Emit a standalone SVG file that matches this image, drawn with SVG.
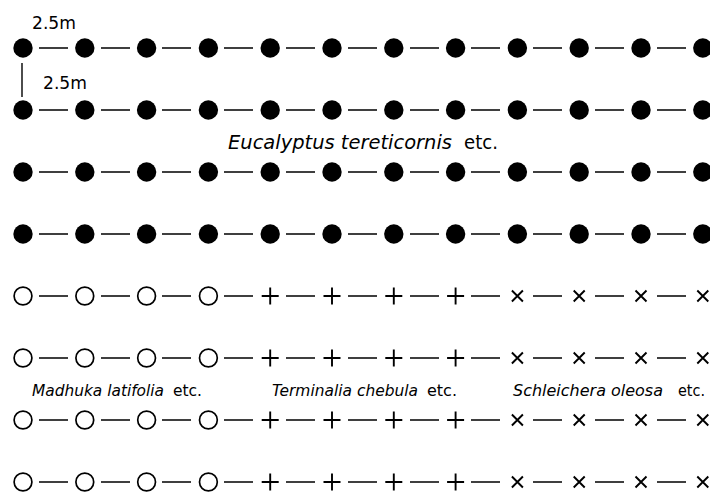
<svg xmlns="http://www.w3.org/2000/svg" xmlns:xlink="http://www.w3.org/1999/xlink" width="710" height="492" viewBox="0 0 710 492">
<style>
  .t { font-family: "DejaVu Sans", "Liberation Sans", sans-serif; fill: #000; }
  .it { font-style: italic; }
  .dash { stroke: #000; stroke-width: 1.4; fill: none; }
  .sym { stroke: #000; stroke-width: 1.9; fill: none; }
</style>
<defs>
  <circle id="fc" r="9.7" fill="#000"/>
  <circle id="oc" r="8.9" fill="none" stroke="#000" stroke-width="1.7"/>
  <path id="pl" class="sym" d="M-8.5,0H8.5M0,-8.5V8.5"/>
  <path id="cr" class="sym" d="M-5.5,-5.5L5.5,5.5M5.5,-5.5L-5.5,5.5"/>
  <path id="row" class="dash" d="M39,0h29M101,0h29M162,0h29M224,0h29M286,0h29M348,0h29M410,0h29M471,0h29M533,0h29M595,0h29M657,0h29"/>
</defs>
<g id="connectors">
  <use xlink:href="#row" y="48"/>
  <use xlink:href="#row" y="110"/>
  <use xlink:href="#row" y="172"/>
  <use xlink:href="#row" y="234"/>
  <use xlink:href="#row" y="296"/>
  <use xlink:href="#row" y="358"/>
  <use xlink:href="#row" y="420"/>
  <use xlink:href="#row" y="482"/>
  <line class="dash" x1="22" y1="63" x2="22" y2="97"/>
</g>
<g id="eucalyptus-rows">
  <g id="row1">
    <use xlink:href="#fc" x="23" y="48"/><use xlink:href="#fc" x="84.8" y="48"/><use xlink:href="#fc" x="146.6" y="48"/><use xlink:href="#fc" x="208.4" y="48"/><use xlink:href="#fc" x="270.2" y="48"/><use xlink:href="#fc" x="332" y="48"/><use xlink:href="#fc" x="393.8" y="48"/><use xlink:href="#fc" x="455.6" y="48"/><use xlink:href="#fc" x="517.4" y="48"/><use xlink:href="#fc" x="579.2" y="48"/><use xlink:href="#fc" x="641" y="48"/><use xlink:href="#fc" x="702.8" y="48"/>
  </g>
  <g id="row2">
    <use xlink:href="#fc" x="23" y="110"/><use xlink:href="#fc" x="84.8" y="110"/><use xlink:href="#fc" x="146.6" y="110"/><use xlink:href="#fc" x="208.4" y="110"/><use xlink:href="#fc" x="270.2" y="110"/><use xlink:href="#fc" x="332" y="110"/><use xlink:href="#fc" x="393.8" y="110"/><use xlink:href="#fc" x="455.6" y="110"/><use xlink:href="#fc" x="517.4" y="110"/><use xlink:href="#fc" x="579.2" y="110"/><use xlink:href="#fc" x="641" y="110"/><use xlink:href="#fc" x="702.8" y="110"/>
  </g>
  <g id="row3">
    <use xlink:href="#fc" x="23" y="172"/><use xlink:href="#fc" x="84.8" y="172"/><use xlink:href="#fc" x="146.6" y="172"/><use xlink:href="#fc" x="208.4" y="172"/><use xlink:href="#fc" x="270.2" y="172"/><use xlink:href="#fc" x="332" y="172"/><use xlink:href="#fc" x="393.8" y="172"/><use xlink:href="#fc" x="455.6" y="172"/><use xlink:href="#fc" x="517.4" y="172"/><use xlink:href="#fc" x="579.2" y="172"/><use xlink:href="#fc" x="641" y="172"/><use xlink:href="#fc" x="702.8" y="172"/>
  </g>
  <g id="row4">
    <use xlink:href="#fc" x="23" y="234"/><use xlink:href="#fc" x="84.8" y="234"/><use xlink:href="#fc" x="146.6" y="234"/><use xlink:href="#fc" x="208.4" y="234"/><use xlink:href="#fc" x="270.2" y="234"/><use xlink:href="#fc" x="332" y="234"/><use xlink:href="#fc" x="393.8" y="234"/><use xlink:href="#fc" x="455.6" y="234"/><use xlink:href="#fc" x="517.4" y="234"/><use xlink:href="#fc" x="579.2" y="234"/><use xlink:href="#fc" x="641" y="234"/><use xlink:href="#fc" x="702.8" y="234"/>
  </g>
</g>
<g id="mixed-rows">
  <g id="row5">
    <use xlink:href="#oc" x="23" y="296"/><use xlink:href="#oc" x="84.8" y="296"/><use xlink:href="#oc" x="146.6" y="296"/><use xlink:href="#oc" x="208.4" y="296"/>
    <use xlink:href="#pl" x="270.2" y="296"/><use xlink:href="#pl" x="332" y="296"/><use xlink:href="#pl" x="393.8" y="296"/><use xlink:href="#pl" x="455.6" y="296"/>
    <use xlink:href="#cr" x="517.4" y="296"/><use xlink:href="#cr" x="579.2" y="296"/><use xlink:href="#cr" x="641" y="296"/><use xlink:href="#cr" x="702.8" y="296"/>
  </g>
  <g id="row6">
    <use xlink:href="#oc" x="23" y="358"/><use xlink:href="#oc" x="84.8" y="358"/><use xlink:href="#oc" x="146.6" y="358"/><use xlink:href="#oc" x="208.4" y="358"/>
    <use xlink:href="#pl" x="270.2" y="358"/><use xlink:href="#pl" x="332" y="358"/><use xlink:href="#pl" x="393.8" y="358"/><use xlink:href="#pl" x="455.6" y="358"/>
    <use xlink:href="#cr" x="517.4" y="358"/><use xlink:href="#cr" x="579.2" y="358"/><use xlink:href="#cr" x="641" y="358"/><use xlink:href="#cr" x="702.8" y="358"/>
  </g>
  <g id="row7">
    <use xlink:href="#oc" x="23" y="420"/><use xlink:href="#oc" x="84.8" y="420"/><use xlink:href="#oc" x="146.6" y="420"/><use xlink:href="#oc" x="208.4" y="420"/>
    <use xlink:href="#pl" x="270.2" y="420"/><use xlink:href="#pl" x="332" y="420"/><use xlink:href="#pl" x="393.8" y="420"/><use xlink:href="#pl" x="455.6" y="420"/>
    <use xlink:href="#cr" x="517.4" y="420"/><use xlink:href="#cr" x="579.2" y="420"/><use xlink:href="#cr" x="641" y="420"/><use xlink:href="#cr" x="702.8" y="420"/>
  </g>
  <g id="row8">
    <use xlink:href="#oc" x="23" y="482"/><use xlink:href="#oc" x="84.8" y="482"/><use xlink:href="#oc" x="146.6" y="482"/><use xlink:href="#oc" x="208.4" y="482"/>
    <use xlink:href="#pl" x="270.2" y="482"/><use xlink:href="#pl" x="332" y="482"/><use xlink:href="#pl" x="393.8" y="482"/><use xlink:href="#pl" x="455.6" y="482"/>
    <use xlink:href="#cr" x="517.4" y="482"/><use xlink:href="#cr" x="579.2" y="482"/><use xlink:href="#cr" x="641" y="482"/><use xlink:href="#cr" x="702.8" y="482"/>
  </g>
</g>
<g id="labels">
  <text class="t" x="32" y="29" font-size="18.5" textLength="44" lengthAdjust="spacingAndGlyphs">2.5m</text>
  <text class="t" x="43" y="89" font-size="18.5" textLength="44" lengthAdjust="spacingAndGlyphs">2.5m</text>
  <text class="t it" x="228" y="149" font-size="19" textLength="224" lengthAdjust="spacingAndGlyphs">Eucalyptus tereticornis</text>
  <text class="t" x="464" y="149" font-size="19" textLength="34" lengthAdjust="spacingAndGlyphs">etc.</text>
  <text class="t it" x="32" y="396" font-size="15.5" textLength="132" lengthAdjust="spacingAndGlyphs">Madhuka latifolia</text>
  <text class="t" x="173" y="396" font-size="15.5" textLength="29" lengthAdjust="spacingAndGlyphs">etc.</text>
  <text class="t it" x="272" y="396" font-size="15.5" textLength="146" lengthAdjust="spacingAndGlyphs">Terminalia chebula</text>
  <text class="t" x="427" y="396" font-size="15.5" textLength="30" lengthAdjust="spacingAndGlyphs">etc.</text>
  <text class="t it" x="513" y="396" font-size="15.5" textLength="150" lengthAdjust="spacingAndGlyphs">Schleichera oleosa</text>
  <text class="t" x="678" y="396" font-size="15.5" textLength="27" lengthAdjust="spacingAndGlyphs">etc.</text>
</g>
</svg>
